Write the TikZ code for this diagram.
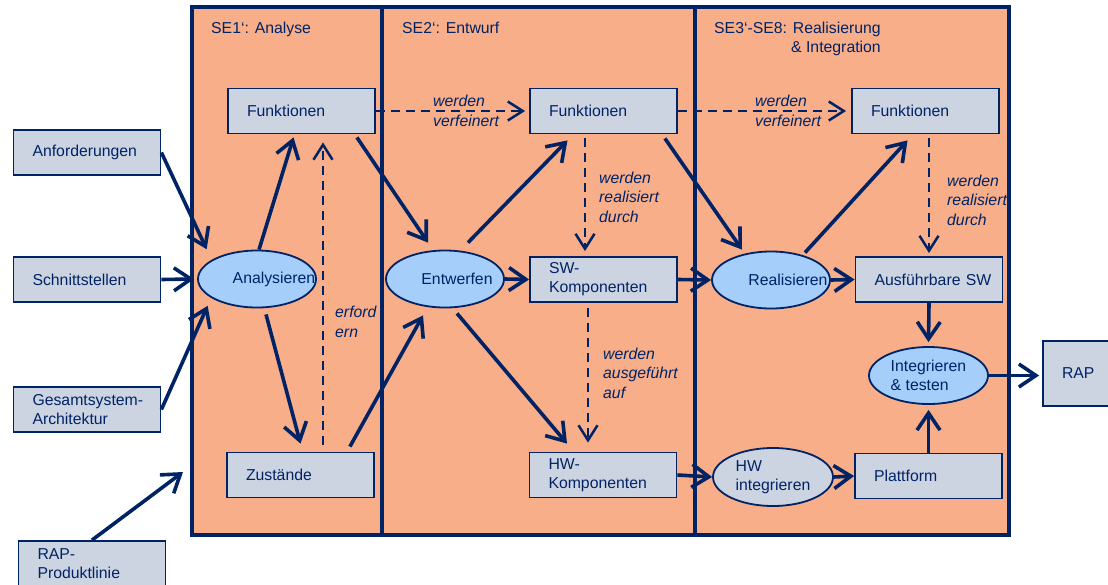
\documentclass[tikz,border=0pt]{standalone}
\usepackage{fontspec}
\setmainfont{Liberation Sans}
\usepackage{xcolor}
\usetikzlibrary{arrows.meta,shapes}

\definecolor{navy}{RGB}{0,35,102}
\definecolor{salmon}{RGB}{248,174,137}
\definecolor{boxgrey}{RGB}{205,212,225}
\definecolor{ovalblue}{RGB}{166,206,250}
\hyphenpenalty=10000

\begin{document}
\begin{tikzpicture}[x=1pt,y=-1pt,
    every node/.style={font=\fontsize{15.8}{19}\selectfont, text=navy},
    phase/.style={draw=navy, line width=4pt, fill=salmon},
    box/.style={rectangle, draw=navy, line width=1.8pt, fill=boxgrey,
      minimum height=45pt, text width=109pt, inner xsep=19pt, align=left},
    oval/.style={ellipse, draw=navy, line width=1.8pt, fill=ovalblue,
      minimum width=118pt, minimum height=57pt, inner sep=0pt, align=left},
    flow/.style={navy, line width=3.6pt, -{Straight Barb[length=17pt,width=23pt]}},
    refine/.style={navy, line width=2.5pt, dash pattern=on 9pt off 6pt,
      -{Straight Barb[length=15pt,width=19pt]}},
    note/.style={font=\fontsize{15.8}{19.5}\selectfont\itshape, align=left,
      inner sep=0pt, anchor=west}]
    \useasboundingbox (0,0) rectangle (1108,584);

    % phases
    \draw[phase] (192,7) rectangle (382,535);
    \draw[phase] (382,7) rectangle (695,535);
    \draw[phase] (695,7) rectangle (1009,535);
    \node[anchor=base west, inner sep=0pt] (se1) at (211,33) {SE1‘: Analyse};
    \node[anchor=base west, inner sep=0pt] (se2) at (402,33) {SE2‘: Entwurf};
    \node[anchor=base west, inner sep=0pt, align=right] (se3) at (714,52)
      {SE3‘-SE8: Realisierung\\\& Integration};

    % inputs
    \node[box] (anf) at (87,152.5) {Anforderungen};
    \node[box] (sch) at (87,279.5) {Schnittstellen};
    \node[box] (ges) at (87,409.5) {\mbox{Gesamtsystem-}\\Architektur};
    \node[box] (rapl) at (92,563.5) {RAP-\\Produktlinie};
    \coordinate (p1in) at (183,472);

    % SE1
    \node[box] (fun1) at (301.5,111) {Funktionen};
    \node[oval, label={[xshift=17pt]center:Analysieren}] (ana) at (257,279) {};
    \node[box] (zus) at (300.5,475) {Zustände};

    % SE2
    \node[box] (fun2) at (603.5,111) {Funktionen};
    \node[oval, label={[xshift=12pt]center:Entwerfen}] (ent) at (445,279) {};
    \node[box] (sw) at (603.5,279.5) {SW-\\Komponenten};
    \node[box] (hw) at (603,475) {HW-\\Komponenten};

    % SE3-SE8
    \node[box] (fun3) at (925.5,111) {Funktionen};
    \node[oval, label={[xshift=17pt]center:Realisieren}] (rea) at (771,280) {};
    \node[box] (asw) at (929,279.5) {\mbox{Ausführbare SW}};
    \node[oval, minimum width=119pt] (int) at (928.5,375.5) {Integrieren\\\& testen};
    \node[oval, fill=boxgrey, minimum width=120pt, minimum height=58pt] (hwi)
      at (773,477) {HW\\integrieren};
    \node[box] (pla) at (928.5,476) {Plattform};
    \node[box, minimum height=65pt] (rap) at (1116.5,373.5) {RAP};

    % labels of the dashed relations
    \node[note] (vf1) at (433,111) {werden\\verfeinert};
    \node[note] (vf2) at (755,111) {werden\\verfeinert};
    \node[note] (rd1) at (599,197) {werden\\realisiert\\durch};
    \node[note] (rd2) at (947,200) {werden\\realisiert\\durch};
    \node[note] (aa) at (603,373) {werden\\ausgeführt\\auf};
    \node[note] (ef) at (335,322) {erford\\ern};

    % flows
    \draw[flow] (anf.east) -- ([shift={(-8,-9)}]ana.north west);
    \draw[flow] (sch.east) -- ([shift={(-3,0)}]ana.west);
    \draw[flow] (ges.east) -- ([shift={(-7,6)}]ana.south west);
    \draw[flow] (rapl.north) -- (p1in);
    \draw[flow] ([shift={(2,0)}]ana.north) -- ([shift={(-8,3)}]fun1.south);
    \draw[flow] ([shift={(9,6)}]ana.south) -- ([shift={(0,-8)}]zus.north);
    \draw[flow] ([shift={(-19,3)}]fun1.south east) -- ([shift={(-17,-7)}]ent.north);
    \draw[flow] ([shift={(-25,-5)}]zus.north east) -- ([shift={(-22,7)}]ent.south);
    \draw[flow] ([shift={(23,-7)}]ent.north) -- ([shift={(-36,6)}]fun2.south);
    \draw[flow] (ent.east) -- (sw.west);
    \draw[flow] ([shift={(12,5)}]ent.south) -- ([shift={(-36,-8)}]hw.north);
    \draw[flow] ([shift={(-13,4)}]fun2.south east) -- ([shift={(-29,-1)}]rea.north);
    \draw[flow] (sw.east) -- (rea.west);
    \draw[flow] (hw.east) -- (hwi.west);
    \draw[flow] ([shift={(34,2)}]rea.north) -- ([shift={(-18,6)}]fun3.south);
    \draw[flow] (rea.east) -- (asw.west);
    \draw[flow] (asw.south) -- ([shift={(0,-4)}]int.north);
    \draw[flow] (pla.north) -- ([shift={(0,5)}]int.south);
    \draw[flow] (hwi.east) -- (pla.west);
    \draw[flow] (int.east) -- ([shift={(-3,0)}]int.east -| rap.west);

    % dashed relations
    \draw[refine, shorten >=4pt] (fun1.east) -- (fun2.west);
    \draw[refine, shorten >=5pt] (fun2.east) -- (fun3.west);
    \draw[refine, shorten <=4pt, shorten >=5pt]
      ([xshift=-18.5pt]fun2.south) -- ([xshift=-18.5pt]sw.north);
    \draw[refine, shorten <=4pt, shorten >=3pt] (fun3.south -| asw.north) -- (asw.north);
    \draw[refine, shorten <=5pt, shorten >=9pt]
      ([xshift=-15.5pt]sw.south) -- ([xshift=-15pt]hw.north);
    \draw[refine, shorten <=7pt, shorten >=8pt]
      ([xshift=22.5pt]zus.north) -- ([xshift=21.5pt]fun1.south);
\end{tikzpicture}
\end{document}
